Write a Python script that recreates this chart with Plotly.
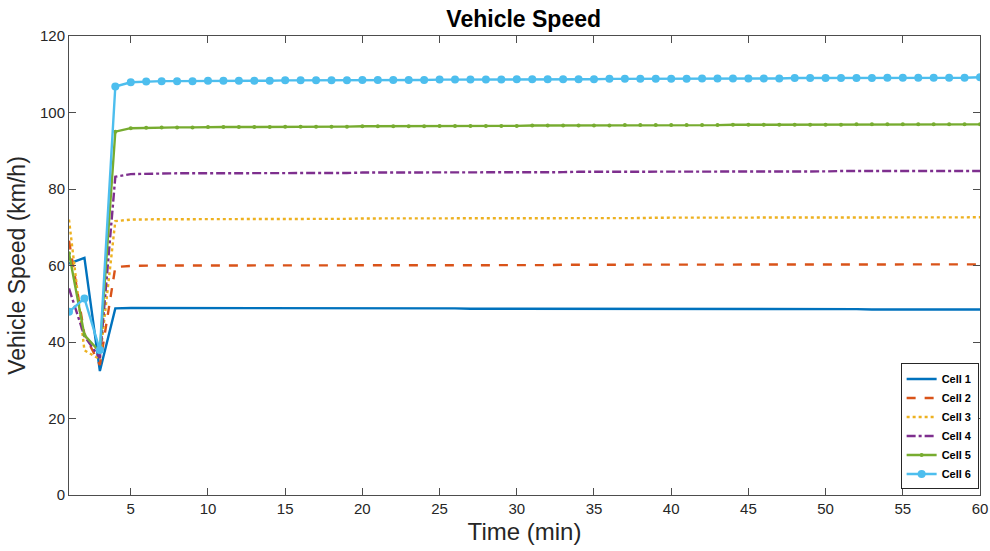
import plotly.graph_objects as go

# Time axis (minutes)
time_min = list(range(1, 61))

# Vehicle speed per cell (km/h), one value per minute
cell1 = [60.5, 62.0, 32.4, 48.8, 48.9, 48.9, 48.9, 48.9, 48.9, 48.9,
         48.9, 48.9, 48.9, 48.9, 48.9, 48.8, 48.8, 48.8, 48.8, 48.8,
         48.8, 48.8, 48.8, 48.8, 48.8, 48.8, 48.7, 48.7, 48.7, 48.7,
         48.7, 48.7, 48.7, 48.7, 48.7, 48.7, 48.7, 48.6, 48.6, 48.6,
         48.6, 48.6, 48.6, 48.6, 48.6, 48.6, 48.6, 48.6, 48.6, 48.6,
         48.6, 48.6, 48.5, 48.5, 48.5, 48.5, 48.5, 48.5, 48.5, 48.5]
cell2 = [66.5, 42.0, 34.0, 59.6, 59.9, 60.0, 60.0, 60.0, 60.0, 60.0,
         60.0, 60.0, 60.0, 60.0, 60.1, 60.1, 60.1, 60.1, 60.1, 60.1,
         60.1, 60.1, 60.1, 60.1, 60.1, 60.1, 60.1, 60.1, 60.1, 60.1,
         60.1, 60.1, 60.2, 60.2, 60.2, 60.2, 60.2, 60.2, 60.2, 60.2,
         60.2, 60.2, 60.2, 60.2, 60.2, 60.2, 60.2, 60.2, 60.2, 60.2,
         60.2, 60.2, 60.3, 60.3, 60.3, 60.3, 60.3, 60.3, 60.3, 60.3]
cell3 = [72.0, 37.8, 35.5, 71.6, 72.0, 72.1, 72.1, 72.1, 72.1, 72.1,
         72.1, 72.2, 72.2, 72.2, 72.2, 72.2, 72.2, 72.2, 72.2, 72.3,
         72.3, 72.3, 72.3, 72.3, 72.3, 72.3, 72.3, 72.3, 72.4, 72.4,
         72.4, 72.4, 72.4, 72.4, 72.4, 72.4, 72.4, 72.4, 72.5, 72.5,
         72.5, 72.5, 72.5, 72.5, 72.5, 72.5, 72.5, 72.5, 72.5, 72.6,
         72.6, 72.6, 72.6, 72.6, 72.6, 72.6, 72.6, 72.6, 72.6, 72.6]
cell4 = [54.0, 41.5, 35.8, 83.2, 83.9, 84.0, 84.0, 84.1, 84.1, 84.1,
         84.1, 84.1, 84.1, 84.2, 84.2, 84.2, 84.2, 84.2, 84.2, 84.3,
         84.3, 84.3, 84.3, 84.3, 84.3, 84.3, 84.4, 84.4, 84.4, 84.4,
         84.4, 84.4, 84.4, 84.5, 84.5, 84.5, 84.5, 84.5, 84.5, 84.5,
         84.5, 84.6, 84.6, 84.6, 84.6, 84.6, 84.6, 84.6, 84.6, 84.6,
         84.7, 84.7, 84.7, 84.7, 84.7, 84.7, 84.7, 84.7, 84.7, 84.7]
cell5 = [63.2, 41.8, 37.4, 95.0, 95.9, 96.0, 96.1, 96.1, 96.1, 96.2,
         96.2, 96.2, 96.2, 96.2, 96.3, 96.3, 96.3, 96.3, 96.3, 96.4,
         96.4, 96.4, 96.4, 96.4, 96.5, 96.5, 96.5, 96.5, 96.5, 96.5,
         96.6, 96.6, 96.6, 96.6, 96.6, 96.6, 96.7, 96.7, 96.7, 96.7,
         96.7, 96.7, 96.7, 96.8, 96.8, 96.8, 96.8, 96.8, 96.8, 96.8,
         96.8, 96.9, 96.9, 96.9, 96.9, 96.9, 96.9, 96.9, 96.9, 96.9]
cell6 = [47.9, 51.4, 37.9, 106.8, 107.9, 108.1, 108.2, 108.2, 108.2, 108.3,
         108.3, 108.3, 108.3, 108.3, 108.4, 108.4, 108.4, 108.4, 108.4, 108.5,
         108.5, 108.5, 108.5, 108.5, 108.6, 108.6, 108.6, 108.6, 108.6, 108.7,
         108.7, 108.7, 108.7, 108.7, 108.7, 108.8, 108.8, 108.8, 108.8, 108.8,
         108.8, 108.9, 108.9, 108.9, 108.9, 108.9, 108.9, 109.0, 109.0, 109.0,
         109.0, 109.0, 109.0, 109.1, 109.1, 109.1, 109.1, 109.1, 109.1, 109.2]

series_names = ["Cell 1", "Cell 2", "Cell 3", "Cell 4", "Cell 5", "Cell 6"]
series_values = [cell1, cell2, cell3, cell4, cell5, cell6]

x_ticks = list(range(5, 61, 5))
y_ticks = list(range(0, 121, 20))

styles = [
    dict(color="#0072BD", dash="solid", marker=None),
    dict(color="#D95319", dash="dash", marker=None),
    dict(color="#EDB120", dash="dot", marker=None),
    dict(color="#7E2F8E", dash="dashdot", marker=None),
    dict(color="#77AC30", dash="solid", marker=dict(symbol="circle", size=4)),
    dict(color="#4DBEEE", dash="solid", marker=dict(symbol="circle", size=8)),
]

fig = go.Figure()
for name, vals, st in zip(series_names, series_values, styles):
    mode = "lines+markers" if st["marker"] else "lines"
    kw = {}
    if st["marker"]:
        kw["marker"] = dict(color=st["color"], **st["marker"])
    fig.add_trace(go.Scatter(
        x=time_min, y=vals, name=name, mode=mode,
        line=dict(color=st["color"], width=2.4, dash=st["dash"]),
        **kw,
    ))

FONT = "Liberation Sans, Arial"

axis_common = dict(
    showgrid=False, zeroline=False, showline=True, mirror="ticks",
    linecolor="#4d4d4d", linewidth=1, ticks="inside", ticklen=7,
    tickcolor="#4d4d4d", automargin=False,
    tickfont=dict(family=FONT, size=15, color="#262626"),
)

fig.update_layout(
    width=990, height=551,
    margin=dict(l=69, r=10, t=36, b=56),
    paper_bgcolor="white", plot_bgcolor="white",
    font=dict(family=FONT, color="#262626"),
    title=dict(text="<b>Vehicle Speed</b>", x=0.529, xanchor="center",
               y=0.966, yanchor="middle",
               font=dict(family=FONT, size=23, color="#000000")),
    xaxis=dict(range=[1, 60], tickvals=x_ticks,
               title=dict(text="Time (min)", standoff=7,
                          font=dict(family=FONT, size=24, color="#262626")),
               **axis_common),
    yaxis=dict(range=[0, 120], tickvals=y_ticks,
               title=dict(text="Vehicle Speed (km/h)", standoff=7,
                          font=dict(family=FONT, size=23, color="#262626")),
               **axis_common),
    legend=dict(x=0.9985, y=0.012, xanchor="right", yanchor="bottom",
                bgcolor="white", bordercolor="#262626", borderwidth=1,
                font=dict(family=FONT, size=11, color="#000000", weight="bold"),
                tracegroupgap=0, itemwidth=30),
    showlegend=True,
)

fig.write_html("out.html")
